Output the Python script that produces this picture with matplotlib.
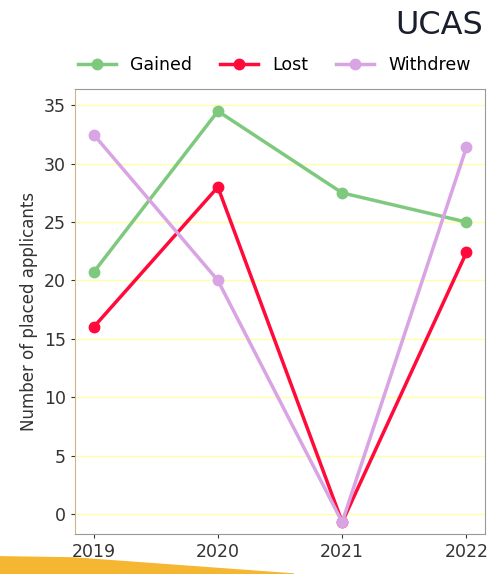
import matplotlib.pyplot as plt
from matplotlib.patches import Polygon

years = ['2019', '2020', '2021', '2022']
gained = [20.7, 34.5, 27.5, 25.0]
lost = [16.0, 28.0, -0.7, 22.4]
withdrew = [32.5, 20.0, -0.7, 31.4]

series = [('Gained', gained, '#7fc97f'),
          ('Lost', lost, '#ff0a3a'),
          ('Withdrew', withdrew, '#d8a4e4')]

fig = plt.figure(figsize=(4.9, 5.74), dpi=100)
ax = fig.add_axes([0.153, 0.07, 0.837, 0.775])

x = list(range(len(years)))
for name, vals, col in series:
    ax.plot(x, vals, color=col, linewidth=2.5, marker='o', markersize=7.5, label=name)

ax.set_xticks(x)
ax.set_xticklabels(years)
ax.set_xlim(-0.15, 3.15)
ax.set_ylim(-1.7, 36.4)
ax.set_yticks(range(0, 36, 5))
ax.yaxis.grid(True, color='#ffffaa', linewidth=1)
ax.set_axisbelow(True)
ax.tick_params(labelsize=12.5, colors='#333333', length=3)
ax.set_ylabel('Number of placed applicants', fontsize=12, color='#333333')
for s in ['top', 'right', 'bottom']:
    ax.spines[s].set_color('#999999')
ax.spines['left'].set_color('#d2b48c')

fig.legend(loc='upper center', bbox_to_anchor=(0.56, 0.93), ncol=3, frameon=False,
           fontsize=12.5, handlelength=2.2, columnspacing=1.6)

fig.text(0.985, 0.955, 'UCAS', ha='right', va='center', fontsize=23,
         color='#1a1f2e', family='DejaVu Sans')

# orange band from the slide at the bottom
fig.patches.append(Polygon([[0, 0], [0.0, 0.03], [0.15, 0.028], [0.6, 0.0]],
                           closed=True, transform=fig.transFigure,
                           color='#f5b731', zorder=-1))

fig.savefig('out.png', dpi=100)
